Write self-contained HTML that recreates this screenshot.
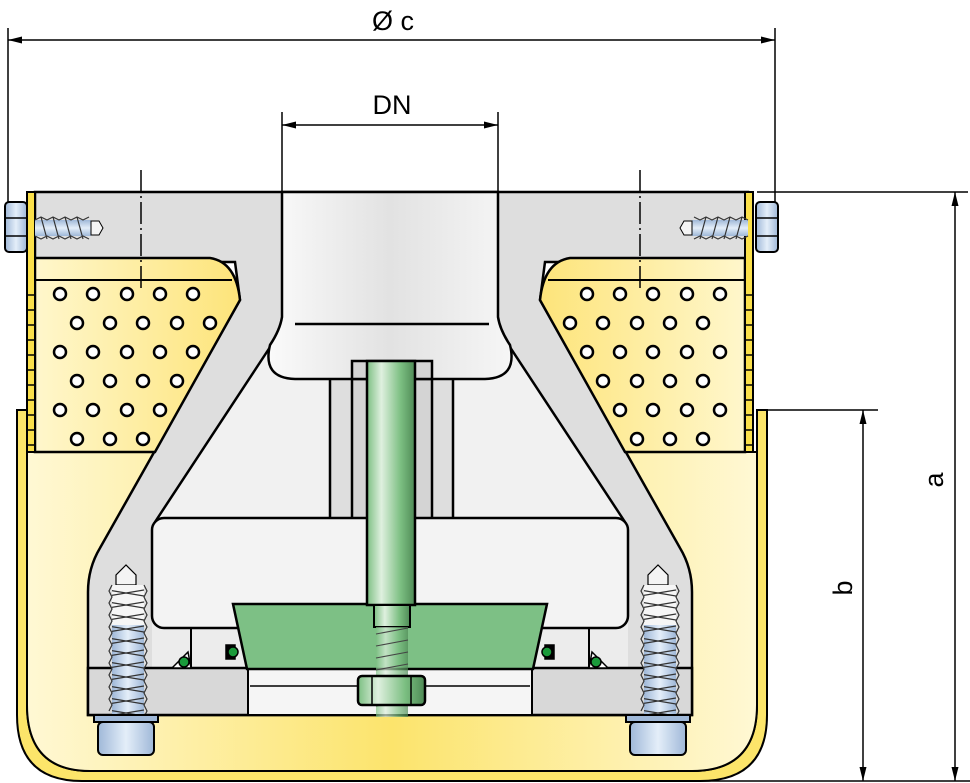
<!DOCTYPE html>
<html><head><meta charset="utf-8"><style>html,body{margin:0;padding:0;background:#fff}svg{display:block}</style></head>
<body>
<svg width="970" height="783" viewBox="0 0 970 783" xmlns="http://www.w3.org/2000/svg" font-family="Liberation Sans, sans-serif">
<defs>
<linearGradient id="yc" x1="0" x2="1" y1="0" y2="0"><stop offset="0" stop-color="#fff8d4"/><stop offset="0.5" stop-color="#fce46c"/><stop offset="1" stop-color="#fff8d4"/></linearGradient>
<linearGradient id="ybL" x1="0" x2="1"><stop offset="0" stop-color="#fff7cc"/><stop offset="1" stop-color="#fde47a"/></linearGradient>
<linearGradient id="ybR" x1="1" x2="0"><stop offset="0" stop-color="#fff7cc"/><stop offset="1" stop-color="#fde47a"/></linearGradient>
<linearGradient id="pipe" x1="0" x2="1"><stop offset="0" stop-color="#fafafa"/><stop offset="0.5" stop-color="#e2e2e2"/><stop offset="1" stop-color="#f6f6f6"/></linearGradient>
<linearGradient id="rod" x1="0" x2="1"><stop offset="0" stop-color="#7cbf82"/><stop offset="0.3" stop-color="#dff0df"/><stop offset="0.7" stop-color="#7cbf82"/><stop offset="1" stop-color="#4e8a55"/></linearGradient>
<linearGradient id="blue" x1="0" x2="1"><stop offset="0" stop-color="#9fb8d8"/><stop offset="0.5" stop-color="#e4eef9"/><stop offset="1" stop-color="#9fb8d8"/></linearGradient>
<linearGradient id="blueV" x1="0" x2="0" y1="0" y2="1"><stop offset="0" stop-color="#9fb8d8"/><stop offset="0.5" stop-color="#e4eef9"/><stop offset="1" stop-color="#9fb8d8"/></linearGradient>
<marker id="ar" viewBox="0 0 20 10" refX="20" refY="5" markerWidth="16" markerHeight="7" orient="auto-start-reverse" markerUnits="userSpaceOnUse"><path d="M0,0 L20,5 L0,10 Z" fill="#000"/></marker>
<pattern id="thrV" width="36" height="12" patternUnits="userSpaceOnUse"><path d="M0,2 L36,8 M0,8 L36,2" stroke="#333" stroke-width="1.2" fill="none"/></pattern>
</defs>

<g stroke="#000" stroke-width="1.5" fill="none">
<line x1="8" y1="28" x2="8" y2="202"/><line x1="775" y1="28" x2="775" y2="202"/>
<line x1="8" y1="40" x2="775" y2="40" marker-start="url(#ar)" marker-end="url(#ar)"/>
<line x1="282" y1="112" x2="282" y2="192"/><line x1="498" y1="112" x2="498" y2="192"/>
<line x1="282" y1="125" x2="498" y2="125" marker-start="url(#ar)" marker-end="url(#ar)"/>
<line x1="757" y1="192" x2="968" y2="192"/>
<line x1="767" y1="410" x2="878" y2="410"/>
<line x1="700" y1="781" x2="970" y2="781"/>
<line x1="955" y1="192" x2="955" y2="781" marker-start="url(#ar)" marker-end="url(#ar)"/>
<line x1="863" y1="410" x2="863" y2="781" marker-start="url(#ar)" marker-end="url(#ar)"/>
</g>
<text x="393" y="30" font-size="27" text-anchor="middle">Ø c</text>
<text x="392" y="114" font-size="27" text-anchor="middle">DN</text>
<text transform="translate(943,480) rotate(-90)" font-size="27" text-anchor="middle">a</text>
<text transform="translate(852,588) rotate(-90)" font-size="27" text-anchor="middle">b</text>

<path d="M17,410 H27 V705 Q27,771 90,771 H692 Q757,771 757,705 V410 H767 V715 Q767,781 700,781 H82 Q17,781 17,715 Z" fill="#fce56a" stroke="#000" stroke-width="2"/>
<path d="M27,452 H757 V705 Q757,771 692,771 H90 Q27,771 27,705 Z" fill="url(#yc)" stroke="#000" stroke-width="2"/>

<path d="M35,192 H748 V262 H545 L540,300 L680,548 Q692,568 692,592 V715 H88 V592 Q88,568 100,548 L240,300 L235,262 H35 Z" fill="#dedede" stroke="#000" stroke-width="2.5"/>
<path d="M35,258 H210 Q236,262 240,300 L155,452 H35 Z" fill="url(#ybL)" stroke="#000" stroke-width="2.5"/>
<path d="M745,258 H570 Q544,262 540,300 L625,452 H745 Z" fill="url(#ybR)" stroke="#000" stroke-width="2.5"/>
<line x1="35" y1="280" x2="232" y2="280" stroke="#000" stroke-width="2"/>
<line x1="548" y1="280" x2="745" y2="280" stroke="#000" stroke-width="2"/>
<rect x="27" y="192" width="8" height="260" fill="#fbe04a" stroke="#000" stroke-width="2"/>
<rect x="745" y="192" width="8" height="260" fill="#fbe04a" stroke="#000" stroke-width="2"/>
<g stroke="#000" stroke-width="1.5">
<path d="M27,295H35M27,310H35M27,325H35M27,340H35M27,355H35M27,370H35M27,385H35M27,400H35M27,415H35M27,430H35M27,445H35"/>
<path d="M745,295H753M745,310H753M745,325H753M745,340H753M745,355H753M745,370H753M745,385H753M745,400H753M745,415H753M745,430H753M745,445H753"/>
</g>
<g fill="#fff" stroke="#000" stroke-width="2.5" id="holesL">
<circle cx="60" cy="294" r="6"/><circle cx="93" cy="294" r="6"/><circle cx="127" cy="294" r="6"/><circle cx="160" cy="294" r="6"/><circle cx="193" cy="294" r="6"/>
<circle cx="77" cy="323" r="6"/><circle cx="110" cy="323" r="6"/><circle cx="143" cy="323" r="6"/><circle cx="177" cy="323" r="6"/><circle cx="210" cy="323" r="6"/>
<circle cx="60" cy="352" r="6"/><circle cx="93" cy="352" r="6"/><circle cx="127" cy="352" r="6"/><circle cx="160" cy="352" r="6"/><circle cx="193" cy="352" r="6"/>
<circle cx="77" cy="381" r="6"/><circle cx="110" cy="381" r="6"/><circle cx="143" cy="381" r="6"/><circle cx="177" cy="381" r="6"/>
<circle cx="60" cy="410" r="6"/><circle cx="93" cy="410" r="6"/><circle cx="127" cy="410" r="6"/><circle cx="160" cy="410" r="6"/>
<circle cx="77" cy="439" r="6"/><circle cx="110" cy="439" r="6"/><circle cx="143" cy="439" r="6"/>
</g>
<use href="#holesL" transform="translate(780,0) scale(-1,1)"/>

<path d="M278,335 L155,522 H625 L502,335 Z" fill="#f1f1f1"/>
<path d="M278,335 L155,522 M502,335 L625,522" stroke="#000" stroke-width="2.5" fill="none"/>
<rect x="330" y="370" width="123" height="150" fill="#dedede" stroke="#000" stroke-width="2.5"/>
<rect x="352" y="361" width="80" height="159" fill="#d4d4d4" stroke="#000" stroke-width="2.5"/>
<path d="M282,192 V317 Q280,330 270,345 Q262,378 295,379 H485 Q518,378 510,345 Q500,330 498,317 V192 Z" fill="url(#pipe)" stroke="#000" stroke-width="2.5"/>
<line x1="295" y1="324" x2="489" y2="324" stroke="#000" stroke-width="2.5"/>
<rect x="352" y="361" width="80" height="18" fill="#d4d4d4" stroke="#000" stroke-width="2.5"/>

<rect x="152" y="600" width="476" height="68" fill="#ececec"/>
<rect x="88" y="668" width="604" height="47" fill="#d8d8d8" stroke="#000" stroke-width="2.5"/>
<path d="M191,628 V668 M589,628 V668" stroke="#000" stroke-width="2"/>
<path d="M88,668 H191 M589,668 H692" stroke="#000" stroke-width="2"/>
<rect x="152" y="518" width="476" height="110" rx="12" fill="#f3f3f3" stroke="#000" stroke-width="2.5"/>
<rect x="248" y="669" width="284" height="46" fill="#f5f5f5" stroke="#000" stroke-width="2"/>
<line x1="250" y1="686" x2="530" y2="686" stroke="#000" stroke-width="1.5"/>
<path d="M233,604 H547 L533,669 H247 Z" fill="#7dc085" stroke="#000" stroke-width="2.5"/>
<rect x="367" y="361" width="48" height="244" fill="url(#rod)" stroke="#000" stroke-width="2.5"/>
<rect x="374" y="605" width="36" height="22" fill="url(#rod)" stroke="#000" stroke-width="2"/>
<rect x="376" y="627" width="32" height="90" fill="url(#rod)" opacity="0.7"/>
<path d="M376,634 L408,628 M376,646 L408,640 M376,658 L408,652 M376,670 L408,664 M376,682 L408,676 M376,706 L408,700" stroke="#444" stroke-width="1"/>
<rect x="358" y="676" width="67" height="29" rx="4" fill="url(#rod)" stroke="#000" stroke-width="2.5"/>
<path d="M372,676 V705 M411,676 V705" stroke="#000" stroke-width="1.5"/>
<g fill="#1a9a3a" stroke="#000" stroke-width="1.5">
<path d="M172,668 L188,652 L191,668 Z" fill="#fff"/><circle cx="184" cy="662" r="5"/>
<rect x="226" y="645" width="9" height="14" fill="#000"/><circle cx="233" cy="652" r="5"/>
<path d="M608,668 L592,652 L589,668 Z" fill="#fff"/><circle cx="596" cy="662" r="5"/>
<rect x="545" y="645" width="9" height="14" fill="#000"/><circle cx="547" cy="652" r="5"/>
</g>

<g id="vs">
<path d="M116,585 V575 L126,565 L136,575 V585 Z" fill="#f4f4f4" stroke="#000" stroke-width="1.2"/>
<rect x="112" y="585" width="32" height="40" fill="#f6f6f6"/>
<rect x="112" y="625" width="32" height="90" fill="url(#blue)"/>
<rect x="112" y="585" width="32" height="130" fill="url(#thrV)"/>
<path d="M112,585 l-3,6 3,6 -3,6 3,6 -3,6 3,6 -3,6 3,6 -3,6 3,6 -3,6 3,6 -3,6 3,6 -3,6 3,6 -3,6 3,6 -3,6 3,6 -3,6 M144,585 l3,6 -3,6 3,6 -3,6 3,6 -3,6 3,6 -3,6 3,6 -3,6 3,6 -3,6 3,6 -3,6 3,6 -3,6 3,6 -3,6 3,6 -3,6 3,6 -3,6" stroke="#333" stroke-width="1.2" fill="none"/>
<rect x="94" y="715" width="64" height="7" fill="#9fb8d8" stroke="#000" stroke-width="2"/>
<rect x="98" y="722" width="56" height="33" rx="5" fill="url(#blue)" stroke="#000" stroke-width="2"/>
</g>
<use href="#vs" transform="translate(532,0)"/>

<g id="hb">
<rect x="35" y="220" width="56" height="16" fill="url(#blueV)"/>
<path d="M35,220 l6,-3 6,3 6,-3 6,3 6,-3 6,3 6,-3 6,3 6,-3 M35,236 l6,3 6,-3 6,3 6,-3 6,3 6,-3 6,3 6,-3 6,3 M41,217 L47,239 M53,217 L59,239 M65,217 L71,239 M77,217 L83,239" stroke="#333" stroke-width="1.2" fill="none"/>
<path d="M91,221 H99 L103,228 L99,235 H91 Z" fill="#f4f4f4" stroke="#000" stroke-width="1"/>
<rect x="5" y="202" width="22" height="50" rx="4" fill="url(#blue)" stroke="#000" stroke-width="2"/>
<path d="M5,218 H27 M5,236 H27" stroke="#000" stroke-width="1.5"/>
</g>
<use href="#hb" transform="translate(783,0) scale(-1,1)"/>

<g stroke="#000" stroke-width="1.5" stroke-dasharray="22,4,2,4">
<line x1="141" y1="170" x2="141" y2="292"/>
<line x1="640" y1="170" x2="640" y2="292"/>
</g>
</svg>
</body></html>
